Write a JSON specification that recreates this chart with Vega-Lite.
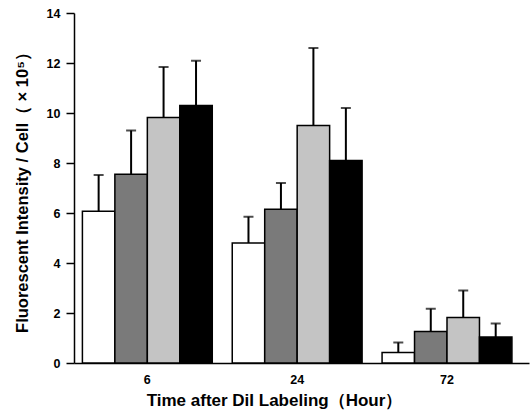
{
  "$schema": "https://vega.github.io/schema/vega-lite/v6.json",
  "autosize": "none",
  "width": 455,
  "height": 350,
  "padding": {"left": 74, "top": 13, "right": 1, "bottom": 50},
  "background": "white",
  "config": {
    "view": {"stroke": null},
    "font": "Liberation Sans",
    "axis": {"grid": false, "domainColor": "black", "domainWidth": 1.5, "tickColor": "black", "tickWidth": 1.5, "labelColor": "black", "titleColor": "black", "labelFontWeight": "bold", "titleFontWeight": "bold", "labelFont": "Liberation Sans", "titleFont": "Liberation Sans"}
  },
  "data": {
    "values": [
      {"time": "6", "group": "A", "value": 6.07, "upper": 7.52},
      {"time": "6", "group": "B", "value": 7.55, "upper": 9.3},
      {"time": "6", "group": "C", "value": 9.82, "upper": 11.84},
      {"time": "6", "group": "D", "value": 10.3, "upper": 12.09},
      {"time": "24", "group": "A", "value": 4.8, "upper": 5.85},
      {"time": "24", "group": "B", "value": 6.15, "upper": 7.2},
      {"time": "24", "group": "C", "value": 9.5, "upper": 12.6},
      {"time": "24", "group": "D", "value": 8.1, "upper": 10.2},
      {"time": "72", "group": "A", "value": 0.42, "upper": 0.82},
      {"time": "72", "group": "B", "value": 1.26, "upper": 2.17},
      {"time": "72", "group": "C", "value": 1.82, "upper": 2.9},
      {"time": "72", "group": "D", "value": 1.04, "upper": 1.58}
    ]
  },
  "encoding": {
    "x": {
      "field": "time", "type": "nominal", "sort": ["6", "24", "72"],
      "scale": {"paddingInner": 0.1333, "paddingOuter": 0.085, "align": 0.33},
      "axis": {"labelAngle": 0, "ticks": false, "labelPadding": 10, "labelFontSize": 12.5, "title": "Time after DiI Labeling（Hour）", "titleFontSize": 17, "titlePadding": 7, "titleX": 200}
    },
    "xOffset": {"field": "group", "type": "nominal", "scale": {"paddingInner": 0, "paddingOuter": 0}}
  },
  "layer": [
    {
      "mark": {"type": "rule", "color": "black", "strokeWidth": 2},
      "encoding": {
        "y": {"field": "value", "type": "quantitative"},
        "y2": {"field": "upper"}
      }
    },
    {
      "mark": {"type": "tick", "orient": "horizontal", "color": "black", "size": 10, "thickness": 2},
      "encoding": {
        "y": {"field": "upper", "type": "quantitative"}
      }
    },
    {
      "mark": {"type": "bar", "stroke": "black", "strokeWidth": 1.5},
      "encoding": {
        "y": {
          "field": "value", "type": "quantitative",
          "scale": {"domain": [0, 14]},
          "axis": {"values": [0, 2, 4, 6, 8, 10, 12, 14], "tickSize": 8, "labelFontSize": 12.5, "labelPadding": 6, "title": "Fluorescent Intensity / Cell（ × 10⁵）", "titleFontSize": 16.5, "titlePadding": 16}
        },
        "fill": {
          "field": "group", "type": "nominal", "legend": null,
          "scale": {"domain": ["A", "B", "C", "D"], "range": ["#ffffff", "#7a7a7a", "#c4c4c4", "#000000"]}
        }
      }
    }
  ]
}
